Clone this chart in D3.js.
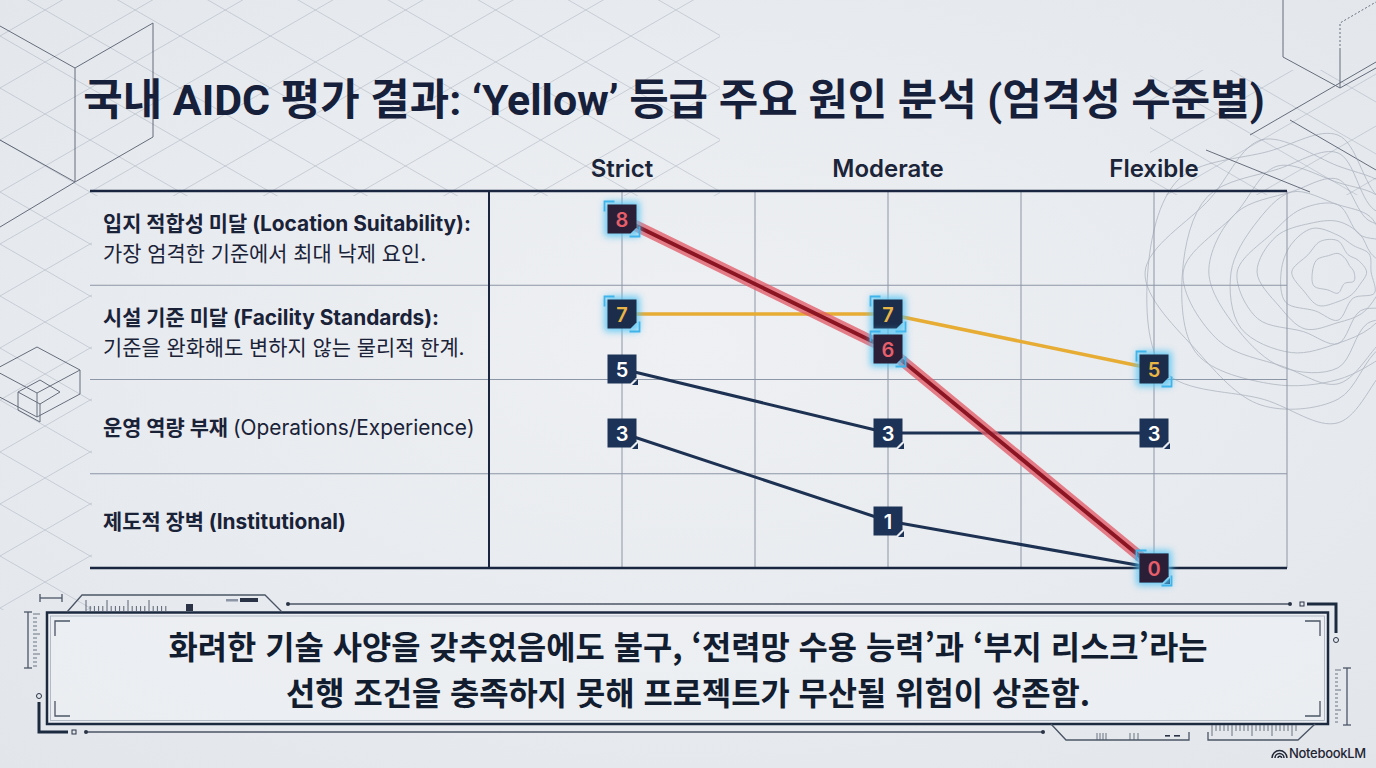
<!DOCTYPE html>
<html lang="ko">
<head>
<meta charset="utf-8">
<title>국내 AIDC 평가 결과</title>
<script src="https://cdn.jsdelivr.net/npm/d3@7"></script>
<style>
  html, body { margin: 0; padding: 0; background: #e6e9ee; overflow: hidden; }
  svg { display: block; }
</style>
</head>
<body>
<div id="chart"></div>
<script>
// Yellow-grade failure factors by strictness level

const titleText = '국내 AIDC 평가 결과: ‘Yellow’ 등급 주요 원인 분석 (엄격성 수준별)';
const levels = ['Strict', 'Moderate', 'Flexible'];
const factorKo = ['입지 적합성 미달', '시설 기준 미달', '운영 역량 부재', '제도적 장벽'];
const factorEn = ['(Location Suitability):', '(Facility Standards):', '(Operations/Experience)', '(Institutional)'];
const factorNotes = ['가장 엄격한 기준에서 최대 낙제 요인.', '기준을 완화해도 변하지 않는 물리적 한계.', '', ''];
const locationScores = [8, 6, 0];
const facilityScores = [7, 7, 5];
const operationsScores = [5, 3, 3];
const institutionalScores = [3, 1, 0];
const summaryLines = [
    '화려한 기술 사양을 갖추었음에도 불구, ‘전력망 수용 능력’과 ‘부지 리스크’라는',
    '선행 조건을 충족하지 못해 프로젝트가 무산될 위험이 상존함.'
];

const W = 1376, H = 768;
const KR = '"Noto Sans CJK KR", sans-serif';
const LATIN = 'Inter, "Noto Sans CJK KR", sans-serif';
const INK = '#16203a';

const svg = d3.select('#chart').append('svg')
    .attr('width', W).attr('height', H)
    .attr('viewBox', `0 0 ${W} ${H}`);

const defs = svg.append('defs');
const grad = defs.append('radialGradient').attr('id', 'bgGrad')
    .attr('cx', '50%').attr('cy', '45%').attr('r', '75%');
grad.append('stop').attr('offset', '0%').attr('stop-color', '#eef0f3');
grad.append('stop').attr('offset', '100%').attr('stop-color', '#e2e6eb');

defs.append('filter').attr('id', 'glow')
    .attr('x', '-60%').attr('y', '-60%').attr('width', '220%').attr('height', '220%')
    .append('feGaussianBlur').attr('stdDeviation', 3.5);

const clip = defs.append('clipPath').attr('id', 'latticeClip');
[[0, 170, 92, 440], [0, 0, 720, 196], [1150, 70, 226, 125]].forEach(r => {
    clip.append('rect').attr('x', r[0]).attr('y', r[1]).attr('width', r[2]).attr('height', r[3]);
});

svg.append('rect').attr('width', W).attr('height', H).attr('fill', 'url(#bgGrad)');

// ---------- background decoration ----------
const deco = svg.append('g').attr('fill', 'none');

const lattice = deco.append('g').attr('clip-path', 'url(#latticeClip)')
    .attr('stroke', '#98a1b0').attr('stroke-width', 0.8).attr('opacity', 0.5);
d3.range(-900, 1700, 52).forEach(c => {
    lattice.append('line').attr('x1', 0).attr('y1', c).attr('x2', W).attr('y2', c + 0.577 * W);
    lattice.append('line').attr('x1', 0).attr('y1', c).attr('x2', W).attr('y2', c - 0.577 * W);
});

const cubeLine = d3.line();
const cubes = deco.append('g').attr('stroke', '#2f394b').attr('stroke-width', 1).attr('opacity', 0.7);
[
    [[0, 26], [75, 68], [153, 23]],
    [[75, 68], [75, 182]], [[153, 23], [153, 137]],
    [[0, 140], [75, 182], [153, 137]],
    [[0, 227], [75, 182]],
    [[-6, 370], [37, 347], [80, 370], [37, 393], [-6, 370]],
    [[37, 393], [37, 417]], [[80, 370], [80, 394], [37, 417], [-6, 394]],
    [[18, 392], [40, 380], [60, 392], [40, 404], [18, 392]],
    [[18, 392], [18, 410], [40, 422]], [[40, 404], [40, 422]],
    [[1283, 0], [1283, 57], [1340, 88], [1376, 68]],
    [[1340, 88], [1340, 50]],
    [[1250, 135], [1376, 62]], [[1206, 150], [1310, 192]], [[1290, 120], [1376, 170]]
].forEach(p => cubes.append('path').attr('d', cubeLine(p)));
cubes.append('path').attr('d', cubeLine([[1340, 50], [1340, 23], [1376, 2]]))
    .attr('stroke-dasharray', '2,2');

// contour rings on the right
const ringProfile = [1.0, 1.05, 0.9, 1.2, 1.35, 1.6, 1.7, 1.45, 1.3, 1.1, 0.85, 0.9];
const ringWobble = [0, 5, -4, 6, -3, 7, -5, 4, -6, 3, 5, -4];
const radial = d3.lineRadial().curve(d3.curveCatmullRomClosed)
    .angle((d, i) => Math.PI / 2 + i * 2 * Math.PI / ringProfile.length)
    .radius(d => d);
const contours = deco.append('g').attr('transform', 'translate(1338,272)')
    .attr('stroke', '#8b94a4').attr('stroke-width', 0.9).attr('opacity', 0.55);
d3.range(16, 118, 10).forEach((k, j) => {
    const r = ringProfile.map((p, i) => p * k + ringWobble[(i + j) % ringWobble.length] * (k / 50));
    contours.append('path').attr('d', radial(r));
});

// ---------- title ----------
function fitWidth(sel, target) {
    const w = sel.node().getComputedTextLength();
    const fs = parseFloat(sel.attr('font-size'));
    const size = fs * target / w;
    sel.attr('font-size', size);
    return size;
}

const title = svg.append('text')
    .attr('x', 674).attr('y', 100)
    .attr('text-anchor', 'middle').attr('dominant-baseline', 'central')
    .attr('font-family', 'Roboto, ' + KR).attr('font-weight', 700)
    .attr('font-size', 38).attr('fill', INK)
    .text(titleText);
fitWidth(title, 1182);

// ---------- table / chart ----------
const plot = { left: 90, divider: 489, right: 1287, top: 191, bottom: 568 };
const x = d3.scaleBand().domain(levels).range([plot.divider, plot.right]);
const cx = l => x(l) + x.bandwidth() / 2;
const row = d3.scaleBand().domain(factorKo).range([plot.top, plot.bottom]);
const y = d3.scaleLinear().domain([0, 1, 3, 5, 6, 7, 8]).range([568, 521, 433, 369, 349, 314, 219]);

const grid = svg.append('g');
const vLines = [];
levels.forEach((l, i) => {
    if (i > 0) vLines.push(x(l));
    vLines.push(cx(l));
});
vLines.push(plot.right);
grid.selectAll('line.v').data(vLines).join('line')
    .attr('x1', d => d).attr('x2', d => d)
    .attr('y1', plot.top).attr('y2', plot.bottom)
    .attr('stroke', '#8d96a6').attr('stroke-width', 1);
grid.selectAll('line.h').data(factorKo.slice(1)).join('line')
    .attr('x1', plot.left).attr('x2', plot.right)
    .attr('y1', d => row(d)).attr('y2', d => row(d))
    .attr('stroke', '#8d96a6').attr('stroke-width', 1);
[plot.top, plot.bottom].forEach(v => {
    grid.append('line').attr('x1', plot.left).attr('x2', plot.right)
        .attr('y1', v).attr('y2', v).attr('stroke', '#1a2640').attr('stroke-width', 2.5);
});
grid.append('line').attr('x1', plot.divider).attr('x2', plot.divider)
    .attr('y1', plot.top).attr('y2', plot.bottom)
    .attr('stroke', '#1a2640').attr('stroke-width', 2);

// column headers
svg.append('g').selectAll('text').data(levels).join('text')
    .attr('x', d => cx(d)).attr('y', 168)
    .attr('text-anchor', 'middle').attr('dominant-baseline', 'central')
    .attr('font-family', LATIN).attr('font-weight', 600).attr('font-size', 24)
    .attr('fill', '#1b2438')
    .text(d => d);

// row labels
const enWeight = [700, 700, 400, 700];
const labels = svg.append('g').attr('font-family', LATIN).attr('fill', '#1a2238');
const heads = [];
factorKo.forEach((f, i) => {
    const mid = row(f) + row.bandwidth() / 2;
    const hasNote = factorNotes[i] !== '';
    const head = labels.append('text')
        .attr('x', 103).attr('y', hasNote ? mid - 15 : mid)
        .attr('dominant-baseline', 'central').attr('font-size', 19);
    head.append('tspan').attr('font-weight', 700).text(f + ' ');
    head.append('tspan').attr('font-weight', enWeight[i]).text(factorEn[i]);
    heads.push(head);
    if (hasNote) {
        labels.append('text').attr('class', 'note')
            .attr('x', 103).attr('y', mid + 15)
            .attr('dominant-baseline', 'central').attr('font-size', 19)
            .attr('font-weight', 400)
            .text(factorNotes[i]);
    }
});
const labelSize = fitWidth(heads[0], 368);
labels.selectAll('text').attr('font-size', labelSize);

// ---------- series lines ----------
const series = [
    { name: factorKo[3], values: institutionalScores, kind: 'navy' },
    { name: factorKo[2], values: operationsScores, kind: 'navy' },
    { name: factorKo[1], values: facilityScores, kind: 'yellow' },
    { name: factorKo[0], values: locationScores, kind: 'red' }
];
const pts = s => s.values.map((v, i) => ({ level: levels[i], v }));
const line = d3.line().x(d => cx(d.level)).y(d => y(d.v));

const lines = svg.append('g').attr('fill', 'none').attr('stroke-linejoin', 'round');
series.forEach(s => {
    const d = line(pts(s));
    if (s.kind === 'red') {
        lines.append('path').attr('d', d).attr('stroke', '#e25f6b')
            .attr('stroke-width', 11).attr('stroke-opacity', 0.8).attr('stroke-linecap', 'round');
        lines.append('path').attr('d', d).attr('stroke', '#8c1523').attr('stroke-width', 4);
    } else if (s.kind === 'yellow') {
        lines.append('path').attr('d', d).attr('stroke', '#e7ac34').attr('stroke-width', 3.5);
    } else {
        lines.append('path').attr('d', d).attr('stroke', '#1d3152').attr('stroke-width', 3);
    }
});

// ---------- markers ----------
const markerStyle = {
    navy: { fill: '#1c3256', text: '#ffffff', glow: false },
    yellow: { fill: '#1c2d4b', text: '#e9b544', glow: true },
    red: { fill: '#2b1f37', text: '#e65f6b', glow: true }
};
const half = 14.5, cut = 6;
const markers = svg.append('g');
series.forEach(s => {
    const st = markerStyle[s.kind];
    pts(s).forEach(p => {
        const mx = cx(p.level), my = y(p.v);
        const g = markers.append('g').attr('transform', `translate(${mx},${my})`);
        if (st.glow) {
            g.append('rect').attr('x', -half - 3).attr('y', -half - 3)
                .attr('width', 2 * half + 6).attr('height', 2 * half + 6)
                .attr('fill', '#4fc4f5').attr('opacity', 0.85).attr('filter', 'url(#glow)');
        }
        g.append('path')
            .attr('d', `M${-half},${-half}H${half}V${half - cut}L${half - cut},${half}H${-half}Z`)
            .attr('fill', st.fill);
        if (st.glow) {
            g.append('path')
                .attr('d', `M${-half - 3},${-half + 7}V${-half - 3}H${-half + 7}`)
                .attr('fill', 'none').attr('stroke', '#3fb4ea').attr('stroke-width', 1.8);
            g.append('path')
                .attr('d', `M${half + 3},${half - 7}V${half + 3}H${half - 7}`)
                .attr('fill', 'none').attr('stroke', '#3fb4ea').attr('stroke-width', 1.8);
        } else {
            g.append('path')
                .attr('d', `M${half + 1.5},${half - cut + 1.5}V${half + 1.5}H${half - cut + 1.5}Z`)
                .attr('fill', st.fill);
        }
        g.append('text').attr('y', 1)
            .attr('text-anchor', 'middle').attr('dominant-baseline', 'central')
            .attr('font-family', LATIN).attr('font-weight', 600).attr('font-size', 20)
            .attr('fill', st.text)
            .text(p.v);
    });
});

// ---------- summary box ----------
const box = svg.append('g').attr('fill', 'none').attr('stroke', '#1c2a40');
box.append('rect').attr('x', 47).attr('y', 612.5).attr('width', 1281).attr('height', 111.5)
    .attr('fill', 'rgba(241,243,246,0.55)').attr('stroke-width', 2.5);
box.append('rect').attr('x', 50.5).attr('y', 616).attr('width', 1274).attr('height', 104.5)
    .attr('stroke', '#a4acb9').attr('stroke-width', 0.8);
const thin = box.append('g').attr('stroke', '#4b5566').attr('stroke-width', 1.3);
[
    [[55, 636], [55, 621], [70, 621]], [[55, 701], [55, 716], [70, 716]],
    [[1305, 621], [1320, 621], [1320, 636]], [[1305, 716], [1320, 716], [1320, 701]],
    [[67, 612], [82, 595], [265, 595], [282, 612]],
    [[288, 604], [1290, 604]], [[86, 732], [1043, 732]],
    [[40, 598], [62, 598]], [[40, 594], [40, 602]], [[62, 594], [62, 602]],
    [[28, 612], [28, 668]], [[24, 612], [32, 612]], [[24, 668], [32, 668]],
    [[1347, 668], [1347, 725]], [[1343, 668], [1351, 668]], [[1343, 725], [1351, 725]],
    [[1051, 724], [1066, 740], [1189, 740], [1189, 732]],
    [[1208, 732], [1208, 740], [1298, 740], [1315, 724]]
].forEach(p => thin.append('path').attr('d', cubeLine(p)));
// ruler ticks
d3.range(20).forEach(i => {
    const tx = 86 + i * 4.2;
    thin.append('line').attr('x1', tx).attr('x2', tx).attr('y1', 611)
        .attr('y2', i % 5 === 0 ? 600 : 606).attr('stroke-width', 0.9);
});
d3.range(14).forEach(i => {
    const ty = 614 + i * 4;
    thin.append('line').attr('x1', 33).attr('x2', i % 5 === 0 ? 40 : 37).attr('y1', ty).attr('y2', ty).attr('stroke-width', 0.8);
    thin.append('line').attr('x1', 1335).attr('x2', i % 5 === 0 ? 1341 : 1338)
        .attr('y1', ty + 56).attr('y2', ty + 56).attr('stroke-width', 0.8);
});
d3.range(22).forEach(i => {
    const tx = 1212 + i * 4;
    thin.append('line').attr('x1', tx).attr('x2', tx).attr('y1', 725)
        .attr('y2', i % 5 === 0 ? 736 : 731).attr('stroke-width', 0.8);
});
[1097, 1100, 1103, 1106, 1130, 1134, 1138].forEach(tx => {
    thin.append('line').attr('x1', tx).attr('x2', tx).attr('y1', 733).attr('y2', 740).attr('stroke-width', 0.8);
});
const solid = svg.append('g').attr('fill', '#2a3446');
solid.append('rect').attr('x', 186).attr('y', 604).attr('width', 7).attr('height', 7);
solid.append('rect').attr('x', 226).attr('y', 599).attr('width', 12).attr('height', 2.5).attr('fill', '#8d96a6');
solid.append('rect').attr('x', 240).attr('y', 598).attr('width', 18).attr('height', 4);
solid.append('rect').attr('x', 1165).attr('y', 735).attr('width', 5).attr('height', 1.6);
solid.append('rect').attr('x', 1174).attr('y', 735).attr('width', 6).attr('height', 1.6);
[[288, 604], [1290, 604], [86, 732], [1043, 732]].forEach(p => {
    solid.append('circle').attr('cx', p[0]).attr('cy', p[1]).attr('r', 2);
});
const heavy = svg.append('g').attr('fill', 'none').attr('stroke', '#1c2a40').attr('stroke-width', 3);
heavy.append('path').attr('d', cubeLine([[39, 702], [39, 732], [68, 732]]));
heavy.append('path').attr('d', cubeLine([[1307, 604], [1336, 604], [1336, 633]]));
const small = svg.append('g').attr('fill', 'none').attr('stroke', '#2a3446').attr('stroke-width', 1);
small.append('rect').attr('x', 72).attr('y', 730).attr('width', 4).attr('height', 4);
small.append('rect').attr('x', 1300).attr('y', 602).attr('width', 4).attr('height', 4);
small.append('circle').attr('cx', 39).attr('cy', 696).attr('r', 2.5);
small.append('circle').attr('cx', 1336).attr('cy', 640).attr('r', 2.5);

const sumText = svg.append('g').attr('font-family', KR).attr('font-weight', 700)
    .attr('fill', '#131d30').attr('text-anchor', 'middle');
const sum = sumText.selectAll('text').data(summaryLines).join('text')
    .attr('x', 688).attr('y', (d, i) => 645 + i * 46)
    .attr('dominant-baseline', 'central').attr('font-size', 30)
    .text(d => d);
const sumSize = fitWidth(d3.select(sum.nodes()[0]), 1087);
sum.attr('font-size', Math.min(sumSize, 31.8));

// ---------- brand ----------
const brand = svg.append('g');
brand.append('path')
    .attr('d', 'M1272,758 A7.5,7.5 0 0 1 1287,758 M1275,758 A4.5,4.5 0 0 1 1284,758 M1278,758 A1.8,1.8 0 0 1 1281.6,758')
    .attr('fill', 'none').attr('stroke', '#1f2533').attr('stroke-width', 1.5);
brand.append('text').attr('x', 1289).attr('y', 753)
    .attr('dominant-baseline', 'central')
    .attr('font-family', LATIN).attr('font-weight', 500).attr('font-size', 13)
    .attr('letter-spacing', -0.3)
    .attr('fill', '#1f2533').text('NotebookLM');
</script>
</body>
</html>
